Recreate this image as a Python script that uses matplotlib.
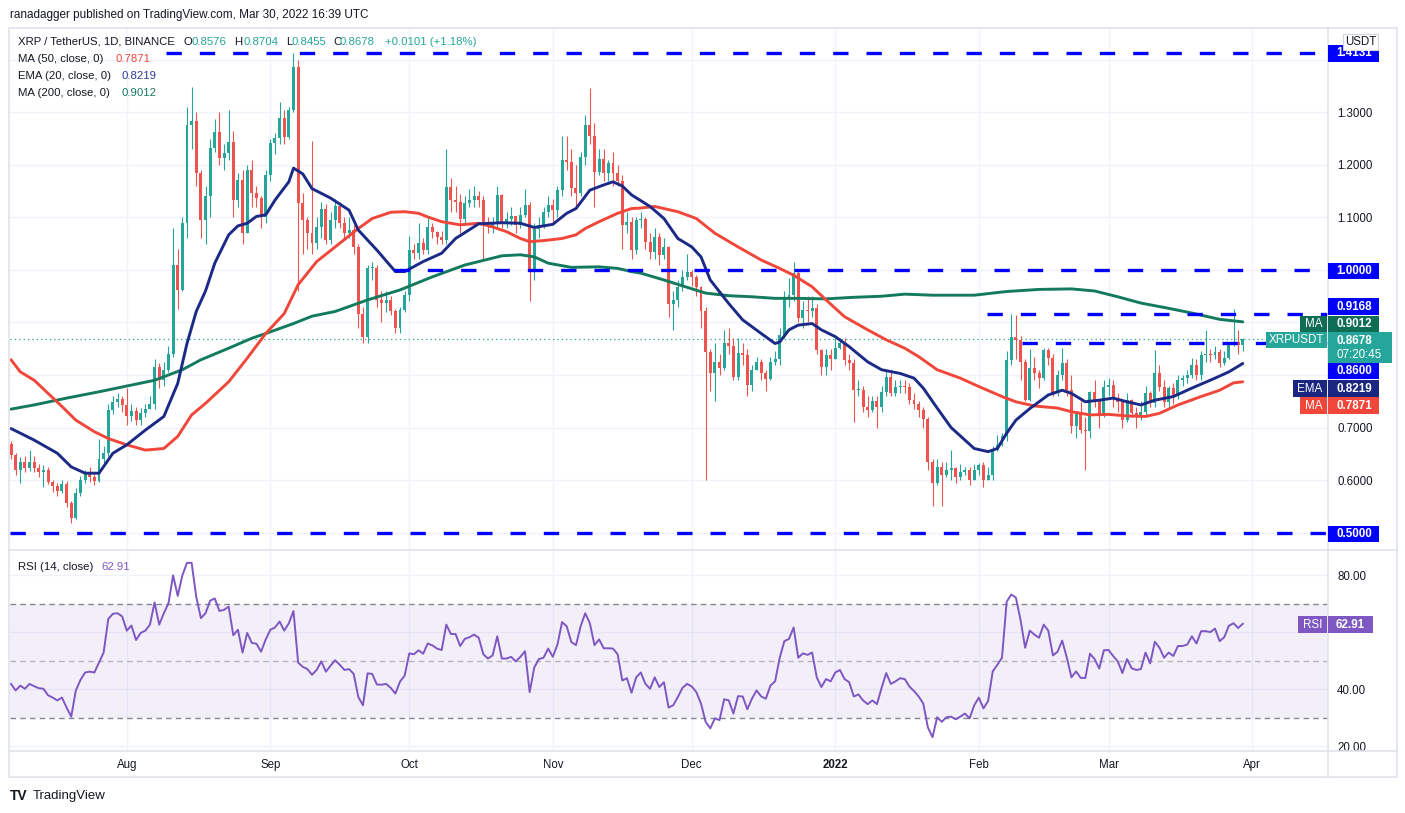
import numpy as np
import pandas as pd
import matplotlib
matplotlib.use('Agg')
import matplotlib.pyplot as plt
import matplotlib.dates as mdates
from matplotlib.patches import Rectangle

plt.rcParams['font.family'] = ['Liberation Sans', 'DejaVu Sans']

W, H = 1405, 813

#---------------------DATA------------------------
start = '2021-07-07'
first_open = 0.668
close = [0.648, 0.620, 0.635, 0.622, 0.635, 0.622, 0.615, 0.620, 0.597, 0.588,
         0.580, 0.592, 0.556, 0.528, 0.575, 0.600, 0.612, 0.606, 0.598, 0.640,
         0.652, 0.733, 0.748, 0.755, 0.742, 0.722, 0.732, 0.715, 0.728, 0.735,
         0.745, 0.815, 0.790, 0.810, 0.840, 1.010, 0.962, 1.089, 1.276, 1.283,
         1.184, 1.095, 1.140, 1.232, 1.263, 1.213, 1.222, 1.244, 1.133, 1.171,
         1.070, 1.190, 1.146, 1.137, 1.100, 1.181, 1.241, 1.251, 1.289, 1.254,
         1.305, 1.387, 1.127, 1.095, 1.070, 1.051, 1.082, 1.117, 1.057, 1.095,
         1.121, 1.089, 1.070, 1.076, 1.044, 0.917, 0.873, 1.003, 1.004, 0.943,
         0.937, 0.943, 0.921, 0.889, 0.924, 0.952, 1.038, 1.032, 1.051, 1.038,
         1.082, 1.073, 1.063, 1.058, 1.159, 1.133, 1.130, 1.098, 1.127, 1.133,
         1.140, 1.133, 1.092, 1.082, 1.090, 1.143, 1.092, 1.098, 1.102, 1.085,
         1.105, 1.124, 0.997, 1.079, 1.085, 1.111, 1.124, 1.115, 1.152, 1.210,
         1.205, 1.156, 1.146, 1.216, 1.276, 1.255, 1.187, 1.212, 1.184, 1.203,
         1.184, 1.170, 1.086, 1.092, 1.038, 1.095, 1.098, 1.054, 1.035, 1.063,
         1.029, 1.044, 0.936, 0.943, 0.968, 0.987, 0.997, 0.987, 0.968, 0.921,
         0.844, 0.803, 0.825, 0.813, 0.860, 0.855, 0.797, 0.841, 0.838, 0.781,
         0.810, 0.825, 0.803, 0.793, 0.825, 0.831, 0.876, 0.946, 0.952, 0.994,
         0.908, 0.924, 0.921, 0.927, 0.848, 0.816, 0.838, 0.830, 0.851, 0.860,
         0.829, 0.822, 0.771, 0.772, 0.740, 0.733, 0.750, 0.740, 0.768, 0.797,
         0.765, 0.777, 0.780, 0.777, 0.752, 0.745, 0.733, 0.717, 0.635, 0.594,
         0.625, 0.610, 0.619, 0.622, 0.606, 0.616, 0.619, 0.600, 0.619, 0.628,
         0.600, 0.610, 0.657, 0.667, 0.683, 0.829, 0.873, 0.867, 0.825, 0.752,
         0.813, 0.803, 0.794, 0.848, 0.832, 0.765, 0.800, 0.822, 0.771, 0.702,
         0.727, 0.695, 0.693, 0.768, 0.752, 0.721, 0.778, 0.781, 0.756, 0.749,
         0.714, 0.752, 0.727, 0.721, 0.730, 0.765, 0.746, 0.803, 0.778, 0.749,
         0.775, 0.762, 0.790, 0.794, 0.800, 0.819, 0.800, 0.838, 0.839, 0.838,
         0.844, 0.822, 0.832, 0.857, 0.863, 0.8576, 0.8678]
high = [0.674, 0.652, 0.644, 0.645, 0.657, 0.645, 0.630, 0.628, 0.625, 0.600,
        0.595, 0.600, 0.598, 0.560, 0.585, 0.608, 0.620, 0.625, 0.612, 0.679,
        0.665, 0.745, 0.760, 0.765, 0.760, 0.775, 0.745, 0.740, 0.738, 0.745,
        0.760, 0.830, 0.823, 0.825, 0.855, 1.080, 1.040, 1.100, 1.310, 1.349,
        1.300, 1.190, 1.160, 1.250, 1.288, 1.300, 1.240, 1.305, 1.265, 1.185,
        1.190, 1.200, 1.210, 1.160, 1.140, 1.190, 1.250, 1.260, 1.320, 1.305,
        1.310, 1.413, 1.400, 1.146, 1.100, 1.245, 1.100, 1.130, 1.125, 1.110,
        1.135, 1.130, 1.100, 1.100, 1.085, 1.050, 0.930, 1.010, 1.015, 1.010,
        0.960, 0.960, 0.950, 0.925, 0.930, 0.960, 1.065, 1.050, 1.090, 1.060,
        1.100, 1.090, 1.075, 1.075, 1.230, 1.175, 1.160, 1.145, 1.140, 1.155,
        1.160, 1.150, 1.140, 1.100, 1.100, 1.160, 1.145, 1.110, 1.120, 1.100,
        1.120, 1.155, 1.130, 1.090, 1.100, 1.120, 1.140, 1.135, 1.160, 1.255,
        1.255, 1.230, 1.200, 1.225, 1.295, 1.346, 1.280, 1.230, 1.230, 1.210,
        1.225, 1.200, 1.180, 1.110, 1.100, 1.100, 1.110, 1.100, 1.070, 1.080,
        1.070, 1.060, 1.045, 0.960, 0.980, 1.000, 1.030, 1.000, 0.990, 0.970,
        0.930, 0.850, 0.860, 0.840, 0.885, 0.890, 0.870, 0.870, 0.860, 0.850,
        0.820, 0.835, 0.830, 0.810, 0.835, 0.845, 0.890, 0.960, 0.985, 1.015,
        1.000, 0.940, 0.950, 0.950, 0.935, 0.850, 0.850, 0.850, 0.870, 0.870,
        0.870, 0.840, 0.830, 0.790, 0.780, 0.760, 0.760, 0.760, 0.780, 0.810,
        0.810, 0.790, 0.790, 0.790, 0.785, 0.765, 0.750, 0.740, 0.720, 0.640,
        0.640, 0.635, 0.635, 0.657, 0.625, 0.630, 0.625, 0.625, 0.630, 0.632,
        0.635, 0.625, 0.665, 0.685, 0.690, 0.845, 0.917, 0.914, 0.875, 0.830,
        0.850, 0.835, 0.810, 0.852, 0.852, 0.840, 0.810, 0.852, 0.830, 0.800,
        0.730, 0.750, 0.720, 0.770, 0.790, 0.755, 0.790, 0.795, 0.790, 0.765,
        0.755, 0.765, 0.755, 0.740, 0.750, 0.780, 0.770, 0.847, 0.820, 0.790,
        0.780, 0.785, 0.800, 0.800, 0.810, 0.833, 0.830, 0.845, 0.885, 0.850,
        0.855, 0.850, 0.845, 0.860, 0.926, 0.885, 0.8704]
low = [0.640, 0.609, 0.594, 0.615, 0.618, 0.615, 0.605, 0.587, 0.592, 0.578,
       0.570, 0.575, 0.548, 0.518, 0.525, 0.570, 0.595, 0.596, 0.590, 0.596,
       0.630, 0.645, 0.725, 0.740, 0.730, 0.705, 0.712, 0.705, 0.705, 0.720,
       0.735, 0.735, 0.775, 0.780, 0.805, 0.835, 0.925, 0.960, 1.060, 1.230,
       1.160, 1.060, 1.050, 1.100, 1.225, 1.200, 1.190, 1.210, 1.100, 1.120,
       1.050, 1.070, 1.120, 1.120, 1.080, 1.090, 1.170, 1.220, 1.240, 1.240,
       1.250, 1.300, 0.960, 1.030, 1.040, 1.030, 1.040, 1.060, 1.050, 1.050,
       1.080, 1.080, 1.060, 1.060, 1.030, 0.890, 0.860, 0.860, 0.980, 0.930,
       0.900, 0.920, 0.915, 0.880, 0.880, 0.920, 0.940, 1.020, 1.020, 1.030,
       1.030, 1.060, 1.050, 1.050, 1.050, 1.110, 1.110, 1.070, 1.090, 1.120,
       1.120, 1.120, 1.020, 1.070, 1.070, 1.080, 1.080, 1.080, 1.085, 1.070,
       1.080, 1.100, 0.940, 0.980, 1.060, 1.080, 1.100, 1.090, 1.100, 1.140,
       1.190, 1.140, 1.120, 1.140, 1.200, 1.240, 1.120, 1.180, 1.170, 1.170,
       1.160, 1.160, 1.040, 1.070, 1.020, 1.030, 1.080, 1.040, 1.020, 1.020,
       1.010, 1.020, 0.910, 0.885, 0.930, 0.960, 0.980, 0.970, 0.950, 0.890,
       0.600, 0.770, 0.750, 0.800, 0.810, 0.840, 0.790, 0.790, 0.820, 0.760,
       0.770, 0.810, 0.790, 0.770, 0.790, 0.820, 0.820, 0.870, 0.930, 0.940,
       0.900, 0.890, 0.900, 0.910, 0.840, 0.800, 0.800, 0.810, 0.830, 0.850,
       0.820, 0.810, 0.710, 0.760, 0.730, 0.720, 0.730, 0.700, 0.730, 0.760,
       0.760, 0.760, 0.765, 0.765, 0.745, 0.735, 0.720, 0.700, 0.620, 0.550,
       0.590, 0.550, 0.605, 0.600, 0.595, 0.600, 0.610, 0.590, 0.600, 0.610,
       0.587, 0.600, 0.600, 0.655, 0.665, 0.675, 0.820, 0.830, 0.790, 0.750,
       0.750, 0.790, 0.775, 0.790, 0.820, 0.760, 0.760, 0.790, 0.760, 0.690,
       0.680, 0.690, 0.620, 0.680, 0.740, 0.700, 0.720, 0.760, 0.740, 0.730,
       0.700, 0.710, 0.720, 0.700, 0.715, 0.720, 0.740, 0.740, 0.770, 0.740,
       0.740, 0.745, 0.755, 0.780, 0.785, 0.795, 0.790, 0.790, 0.825, 0.825,
       0.830, 0.815, 0.820, 0.830, 0.855, 0.840, 0.8455]

rsi = [41.8, 39.5, 41.2, 40.1, 41.8, 41.0, 40.3, 40.1, 37.8, 37.0,
       36.0, 37.0, 33.5, 30.3, 39.5, 43.2, 45.8, 46.1, 45.8, 49.3,
       52.8, 64.6, 66.4, 66.6, 65.5, 60.5, 62.3, 57.2, 59.7, 60.5,
       62.6, 70.4, 62.6, 66.6, 70.1, 79.9, 72.7, 79.9, 84.3, 84.3,
       72.4, 64.9, 66.6, 71.0, 71.8, 67.4, 67.8, 68.9, 58.9, 60.8,
       52.8, 59.7, 56.2, 55.9, 53.1, 57.4, 60.8, 61.6, 63.7, 60.5,
       63.1, 67.4, 49.3, 47.8, 47.0, 45.0, 46.7, 49.7, 46.1, 48.2,
       50.1, 48.5, 46.7, 47.0, 45.3, 37.2, 34.3, 45.5, 45.3, 41.6,
       41.5, 41.8, 40.4, 38.4, 42.6, 44.7, 52.5, 52.2, 53.6, 52.4,
       56.0, 55.3, 54.2, 53.7, 62.6, 59.3, 59.3, 55.1, 57.6, 58.2,
       59.1, 58.0, 52.2, 50.7, 51.8, 58.5, 50.7, 50.7, 51.3, 49.7,
       51.3, 53.3, 38.9, 47.6, 50.5, 51.0, 54.2, 51.3, 55.6, 63.5,
       62.0, 56.5, 55.4, 62.0, 66.6, 63.1, 55.4, 57.4, 54.3, 54.3,
       54.2, 52.2, 43.0, 43.8, 38.7, 44.1, 45.8, 41.8,
       40.1, 44.1, 40.7, 42.4, 33.5, 34.3, 37.2, 40.4, 41.8, 40.9,
       38.9, 34.9, 28.5, 26.2, 29.7, 29.1, 36.4, 36.0, 31.4, 37.5,
       37.4, 32.9, 36.6, 39.5, 37.4, 36.6, 41.2, 42.7, 51.0, 56.8,
       57.6, 61.6, 51.0, 52.5, 52.0, 52.8, 44.1, 40.7, 43.5, 42.7,
       45.8, 46.7, 43.5, 42.4, 37.4, 38.1, 36.0, 34.7, 36.0, 34.7,
       40.4, 45.6, 41.8, 42.7, 43.8, 43.5, 40.9, 39.3, 37.4, 34.9,
       26.5, 23.1, 30.1, 28.5, 30.1, 30.3, 29.4, 30.3, 31.4, 29.7,
       34.3, 37.0, 33.2, 35.8, 46.2, 48.5, 51.0, 70.6, 73.2, 72.1,
       64.3, 54.5, 60.5, 59.1, 58.0, 62.6, 60.5, 51.8, 53.1, 57.0,
       51.0, 44.1, 46.2, 43.9, 43.9, 52.4, 50.5, 47.2, 53.6, 53.7,
       51.6, 49.7, 45.6, 50.5, 47.3, 46.7, 47.0, 52.8, 49.0, 56.6,
       54.5, 51.0, 52.8, 51.6, 55.1, 55.1, 55.6, 58.5, 56.0, 60.3,
       60.3, 60.0, 61.2, 56.8, 58.2, 62.2, 63.1, 61.4, 62.91]

# moving averages (day number since start, value)
ema20_day = [0, 5, 10, 13, 16, 19, 22, 25, 29, 33, 36, 38, 40, 42, 44, 47, 49, 51, 53, 55,
             57, 60, 61, 63, 65, 69, 73, 75, 79, 83, 85, 89, 93, 96, 101, 106, 110, 113, 117, 120,
             122, 125, 128, 130, 132, 134, 138, 141, 144, 147, 149, 151, 155, 158, 162, 165, 166, 168, 170, 173,
             175, 178, 181, 185, 188, 192, 195, 197, 200, 203, 206, 208, 211, 213, 215, 217, 220, 224, 227, 229,
             232, 235, 238, 241, 244, 247, 251, 255, 260, 263, 266]
ema20 = [0.698, 0.676, 0.651, 0.625, 0.613, 0.613, 0.651, 0.667, 0.695, 0.721, 0.784, 0.860, 0.921, 0.960, 1.013, 1.067, 1.084, 1.089, 1.102, 1.105,
         1.133, 1.168, 1.194, 1.183, 1.155, 1.137, 1.114, 1.076, 1.038, 0.997, 0.997, 1.016, 1.032, 1.060, 1.088, 1.090, 1.089, 1.081, 1.087, 1.108,
         1.117, 1.152, 1.162, 1.168, 1.160, 1.143, 1.121, 1.098, 1.060, 1.044, 1.025, 0.981, 0.936, 0.905, 0.879, 0.860, 0.863, 0.886, 0.895, 0.898,
         0.886, 0.873, 0.854, 0.825, 0.810, 0.803, 0.794, 0.775, 0.737, 0.700, 0.676, 0.660, 0.654, 0.660, 0.689, 0.714, 0.736, 0.762, 0.771, 0.765,
         0.749, 0.752, 0.756, 0.749, 0.743, 0.752, 0.759, 0.775, 0.794, 0.806, 0.8219]

ma50_day = [0, 2, 5, 8, 11, 14, 18, 21, 25, 29, 33, 36, 39, 42, 47, 51, 55, 59, 62, 66,
            71, 75, 78, 82, 85, 88, 90, 93, 97, 101, 104, 107, 110, 112, 115, 119, 122, 124, 127, 131,
            134, 136, 139, 144, 148, 152, 157, 162, 166, 169, 173, 176, 180, 185, 189, 193, 196, 200, 205, 209,
            214, 217, 221, 226, 229, 233, 237, 241, 245, 248, 252, 257, 261, 264, 266]
ma50 = [0.829, 0.806, 0.790, 0.765, 0.740, 0.714, 0.692, 0.679, 0.667, 0.657, 0.660, 0.683, 0.724, 0.746, 0.787, 0.832, 0.879, 0.917, 0.972, 1.016,
        1.051, 1.079, 1.098, 1.110, 1.111, 1.108, 1.101, 1.092, 1.086, 1.089, 1.082, 1.073, 1.060, 1.054, 1.056, 1.060, 1.067, 1.079, 1.092, 1.108,
        1.117, 1.118, 1.121, 1.111, 1.098, 1.070, 1.044, 1.019, 1.003, 0.990, 0.968, 0.943, 0.911, 0.886, 0.867, 0.851, 0.835, 0.810, 0.794, 0.778,
        0.759, 0.749, 0.741, 0.737, 0.730, 0.724, 0.725, 0.722, 0.721, 0.727, 0.743, 0.759, 0.771, 0.785, 0.7871]

ma200_day = [0, 5, 12, 19, 25, 31, 37, 41, 47, 52, 55, 61, 65, 70, 77, 84, 91, 98, 106, 110,
             113, 116, 121, 127, 131, 134, 136, 141, 146, 150, 155, 160, 165, 170, 176, 182, 188, 193, 199, 208,
             215, 222, 229, 234, 239, 244, 250, 255, 261, 266]
ma200 = [0.735, 0.743, 0.756, 0.768, 0.779, 0.790, 0.810, 0.829, 0.851, 0.870, 0.879, 0.898, 0.912, 0.921, 0.943, 0.962, 0.987, 1.0095, 1.027, 1.029,
         1.025, 1.013, 1.005, 1.006, 1.003, 0.997, 0.994, 0.981, 0.967, 0.956, 0.951, 0.949, 0.946, 0.946, 0.945, 0.948, 0.950, 0.954, 0.952, 0.952,
         0.959, 0.963, 0.964, 0.960, 0.949, 0.937, 0.927, 0.918, 0.906, 0.9012]

levels = [1.4131, 1.0000, 0.9168, 0.8600, 0.5000]
level_from = ['2021-08-09 12:00', '2021-09-27 18:00', '2022-02-02 18:00', '2022-02-10 06:00', '2021-07-06']

month_ticks = ['2021-08-01', '2021-09-01', '2021-10-01', '2021-11-01', '2021-12-01',
               '2022-01-01', '2022-02-01', '2022-03-01', '2022-04-01']
month_labels = ['Aug', 'Sep', 'Oct', 'Nov', 'Dec', '2022', 'Feb', 'Mar', 'Apr']

price_ticks = [0.5, 0.6, 0.7, 0.8, 0.9, 1.0, 1.1, 1.2, 1.3, 1.4]
price_labels = ['', '0.6000', '0.7000', '', '', '', '1.1000', '1.2000', '1.3000', '']
rsi_ticks = [20, 40, 60, 80]
rsi_labels = ['20.00', '40.00', '', '80.00']

#---------------------COLOURS------------------------
UP, DOWN = '#26a69a', '#ef5350'
C_MA50, C_EMA, C_MA200 = '#f0473a', '#1b2a86', '#137a5e'
BLUE = '#0000ff'
GRID = '#f0f3fa'
FRAME = '#e0e3eb'
TXT = '#131722'
PURPLE = '#7e57c2'

#---------------------FIGURE------------------------
fig = plt.figure(figsize=(W / 100, H / 100), dpi=100)


def px(l, t, r, b):
    return [l / W, 1 - b / H, (r - l) / W, (b - t) / H]


def ftext(x, y, s, **kw):
    kw.setdefault('fontsize', 8.2)
    kw.setdefault('color', TXT)
    kw.setdefault('va', 'center')
    return fig.text(x / W, 1 - y / H, s, **kw)


def box(x0, x1, yc, h, color, ec='none', z=5):
    fig.patches.append(Rectangle((x0 / W, 1 - (yc + h / 2) / H), (x1 - x0) / W, h / H,
                                 transform=fig.transFigure, facecolor=color, edgecolor=ec,
                                 lw=0.8, zorder=z))


ax = fig.add_axes(px(10, 29, 1328, 549))
ar = fig.add_axes(px(10, 550, 1328, 750), sharex=ax)

dates = pd.date_range(start, periods=len(close), freq='D')
x = mdates.date2num(dates)
c = np.array(close)
o = np.r_[first_open, c[:-1]]
hi = np.array(high)
lo = np.array(low)
cols = np.where(c >= o, UP, DOWN)

x0 = x[0] - 0.22
x1 = x[0] + 284.4
ax.set_xlim(x0, x1)
ax.set_ylim(0.4686, 1.459)
ar.set_ylim(18.6, 88.8)

# candles
ax.vlines(x, lo, hi, colors=cols, lw=0.8, zorder=2)
ax.bar(x, np.maximum(np.abs(c - o), 0.0018), bottom=np.minimum(o, c), width=0.64,
       color=cols, linewidth=0, zorder=2)

# moving averages
d0 = x[0]
ax.plot(d0 + np.array(ma200_day), ma200, color=C_MA200, lw=2.1, zorder=3, solid_capstyle='round')
ax.plot(d0 + np.array(ma50_day), ma50, color=C_MA50, lw=2.1, zorder=3, solid_capstyle='round')
ax.plot(d0 + np.array(ema20_day), ema20, color=C_EMA, lw=2.1, zorder=3, solid_capstyle='round')

# horizontal levels
for lv, fr in zip(levels, level_from):
    xs = mdates.date2num(pd.Timestamp(fr))
    ax.plot([max(xs, x0), x1], [lv, lv], color=BLUE, lw=2.4, dashes=(4.6, 5.4), zorder=4,
            solid_capstyle='butt', dash_capstyle='butt')
ax.axhline(close[-1], color=UP, lw=0.9, ls=(0, (1, 2.5)), zorder=1)

# RSI
ar.fill_between([x0, x1], 30, 70, color=PURPLE, alpha=0.09, lw=0, zorder=1)
for lv, a in [(70, 0.9), (50, 0.5), (30, 0.9)]:
    ar.axhline(lv, color='#787b86', lw=1, ls=(0, (4, 3)), alpha=a, zorder=1.5)
ar.plot(x, rsi, color=PURPLE, lw=1.4, zorder=3)

# axes styling
mt = mdates.date2num(pd.to_datetime(month_ticks))
for a in (ax, ar):
    for s in a.spines.values():
        s.set_visible(False)
    a.set_axisbelow(True)
    a.yaxis.tick_right()
    a.set_xticks(mt)
    a.grid(True, color=GRID, lw=1)
    a.tick_params(length=0, labelsize=8.3, labelcolor=TXT)
    a.tick_params(axis='y', pad=6.5)

ax.set_yticks(price_ticks)
ax.set_yticklabels(price_labels)
ax.tick_params(axis='x', labelbottom=False)
ar.set_yticks(rsi_ticks)
ar.set_yticklabels(rsi_labels)
ar.set_xticklabels(month_labels)
ar.tick_params(axis='x', pad=6.5)
for t in ar.get_xticklabels():
    if t.get_text() == '2022':
        t.set_fontweight('bold')

# frame and separators
fig.patches.append(Rectangle((9 / W, 1 - 777 / H), 1388 / W, 749 / H, transform=fig.transFigure,
                             facecolor='none', edgecolor=FRAME, lw=1.2, zorder=1))
fig.lines.append(plt.Line2D([1328 / W, 1328 / W], [1 - 28 / H, 1 - 777 / H], transform=fig.transFigure,
                            color=FRAME, lw=1.2))
for yy in (549.5, 750.5):
    fig.lines.append(plt.Line2D([9 / W, 1397 / W], [1 - yy / H, 1 - yy / H], transform=fig.transFigure,
                                color=FRAME, lw=1.2))

#---------------------TEXTS------------------------
ftext(10, 15, 'ranadagger published on TradingView.com, Mar 30, 2022 16:39 UTC', fontsize=8.5)

ftext(18, 42, 'XRP / TetherUS, 1D, BINANCE')
for xx, s, col in [(183, 'O', TXT), (192, '0.8576', UP), (234, 'H', TXT), (243, '0.8704', UP),
                   (286, 'L', TXT), (292, '0.8455', UP), (333, 'C', TXT), (340, '0.8678', UP),
                   (385, '+0.0101 (+1.18%)', UP)]:
    ftext(xx, 42, s, color=col)
ftext(18, 59, 'MA (50, close, 0)')
ftext(115, 59, '0.7871', color=C_MA50)
ftext(18, 76, 'EMA (20, close, 0)')
ftext(122, 76, '0.8219', color='#2a3c9e')
ftext(18, 93, 'MA (200, close, 0)')
ftext(122, 93, '0.9012', color=C_MA200)
ftext(18, 567, 'RSI (14, close)')
ftext(101, 567, '62.91', color=PURPLE)

# right-hand labels
box(1343, 1378, 42, 16, 'white', ec='#d1d4dc', z=6)
ftext(1360.5, 42, 'USDT', ha='center', fontsize=8.3, zorder=7)

for yc, s in [(53.5, '1.4131'), (271, '1.0000'), (306.5, '0.9168'), (371, '0.8600'), (534, '0.5000')]:
    box(1328, 1379, yc, 16.5, BLUE)
    ftext(1354, yc, s, ha='center', color='white', fontsize=8.4, fontweight='bold', zorder=7)

box(1300, 1327, 324, 16.5, '#0f6d55')
ftext(1313.5, 324, 'MA', ha='center', color='white', fontsize=8.4, zorder=7)
box(1328, 1379, 324, 16.5, '#0f6d55')
ftext(1354, 324, '0.9012', ha='center', color='white', fontsize=8.4, fontweight='bold', zorder=7)

box(1266, 1327, 340, 16.5, UP)
ftext(1296.5, 340, 'XRPUSDT', ha='center', color='white', fontsize=8.4, zorder=7)
box(1328, 1392, 347.5, 31, UP)
ftext(1354, 340.5, '0.8678', ha='center', color='white', fontsize=8.4, fontweight='bold', zorder=7)
ftext(1359, 355, '07:20:45', ha='center', color='white', fontsize=8.4, zorder=7)

box(1293, 1327, 388.5, 16.5, '#1a2680')
ftext(1310, 388.5, 'EMA', ha='center', color='white', fontsize=8.4, zorder=7)
box(1328, 1379, 388.5, 16.5, '#1a2680')
ftext(1354, 388.5, '0.8219', ha='center', color='white', fontsize=8.4, fontweight='bold', zorder=7)

box(1300, 1327, 405.5, 16.5, C_MA50)
ftext(1313.5, 405.5, 'MA', ha='center', color='white', fontsize=8.4, zorder=7)
box(1328, 1379, 405.5, 16.5, C_MA50)
ftext(1354, 405.5, '0.7871', ha='center', color='white', fontsize=8.4, fontweight='bold', zorder=7)

box(1298, 1327, 624.5, 16.5, PURPLE)
ftext(1312.5, 624.5, 'RSI', ha='center', color='white', fontsize=8.4, zorder=7)
box(1328, 1373, 624.5, 16.5, PURPLE)
ftext(1350.5, 624.5, '62.91', ha='center', color='white', fontsize=8.4, fontweight='bold', zorder=7)

# footer logo
ftext(10, 796, 'TV', fontsize=10, fontweight='heavy', color='#131722')
ftext(33, 796, 'TradingView', fontsize=9.5, color='#131722')

fig.savefig('out.png', dpi=100, facecolor='white')
